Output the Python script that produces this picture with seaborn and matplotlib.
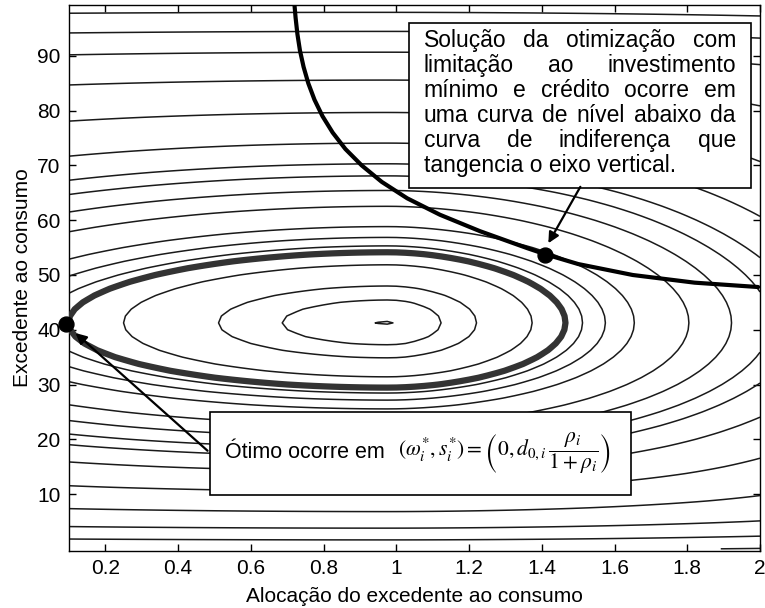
import numpy as np
import pandas as pd
import matplotlib
matplotlib.use("Agg")
import matplotlib.pyplot as plt
from matplotlib.patches import Rectangle
import seaborn as sns

# ---------------- data ----------------
x_ticks = [0.2, 0.4, 0.6, 0.8, 1.0, 1.2, 1.4, 1.6, 1.8, 2.0]
x_ticklabels = ["0.2", "0.4", "0.6", "0.8", "1", "1.2", "1.4", "1.6", "1.8", "2"]
y_ticks = [10, 20, 30, 40, 50, 60, 70, 80, 90]

# where the open contour lines cross the left axis (x = 0.1)
left_axis_crossings = [46.7, 49.8, 52.9, 57.9, 61.5, 64.7, 67.3, 71.7, 78.1, 84.7, 90.2, 94.2, 97.8]
# left edges of the closed level curves inside the bold one (at the centre row)
inner_left_edges = [0.25, 0.511, 0.686, 0.94]
# bold level curve touches the left axis here
bold_touch = (0.1, 41.0)

# bold constraint curve
curve_x = [0.720, 0.723, 0.728, 0.735, 0.745, 0.758, 0.775, 0.797, 0.825, 0.860,
           0.905, 0.960, 1.030, 1.120, 1.230, 1.360, 1.409, 1.500, 1.650, 1.820, 1.995]
curve_y = [99.3, 97.0, 94.0, 91.0, 88.0, 85.0, 82.0, 79.0, 76.0, 73.0,
           70.0, 67.0, 64.0, 61.0, 58.0, 54.9, 53.8, 52.0, 50.0, 48.6, 47.8]

dots_x = [1.409, 0.093]
dots_y = [53.7, 41.0]

box1_lines = ["Solução da otimização com",
              "limitação ao investimento",
              "mínimo e crédito ocorre em",
              "uma curva de nível abaixo da",
              "curva de indiferença que",
              "tangencia o eixo vertical."]

# ---------------- utility-like surface (model) ----------------
X_MIN, X_MAX = 0.1, 2.0
Y_MIN, Y_MAX = -0.4, 99.3
m_opt, y_c, A_v, alpha_r, beta_r, y_shift, q_fade = 0.98, 41.3, 124.3, 1.69, 0.9, 115.0, 0.059


def b_of_x(x):
    x = np.asarray(x, dtype=float)
    left = (m_opt - x) ** 2
    right = (alpha_r * np.clip(x - m_opt, 0, None) ** beta_r) ** 2
    return np.where(x < m_opt, left, right)


def q_of_y(y):
    return np.log((np.asarray(y, dtype=float) + y_shift) / (y_c + y_shift)) ** 2


def surface(x, y):
    q = q_of_y(y)
    return A_v * q + b_of_x(x) * np.exp(-(q / q_fade) ** 2)


xs = np.linspace(X_MIN, X_MAX, 77)
ys = np.linspace(0, 100, 81)
XX, YY = np.meshgrid(xs, ys)
ZZ = surface(XX, YY)

levels = sorted(set([float(surface(X_MIN, y)) for y in left_axis_crossings] +
                    [float(surface(x, y_c)) for x in inner_left_edges]))
bold_level = float(surface(*bold_touch)) * 1.003

# ---------------- figure ----------------
sns.set_theme(style="white")
plt.rcParams["font.family"] = ["Liberation Sans", "DejaVu Sans"]
plt.rcParams["mathtext.fontset"] = "stix"

W, H = 765, 608
fig = plt.figure(figsize=(W / 100, H / 100), dpi=100)
ax = fig.add_axes([69 / W, 1 - 551 / H, (760 - 69) / W, (551 - 5) / H])
ax.set_xlim(X_MIN, X_MAX)
ax.set_ylim(Y_MIN, Y_MAX)

ax.contour(XX, YY, ZZ, levels=levels, colors="#1a1a1a", linewidths=1.1, zorder=2)
ax.contour(XX, YY, ZZ, levels=[bold_level], colors="#333333", linewidths=4.5, zorder=3)

curve_df = pd.DataFrame({"x": curve_x, "y": curve_y})
sns.lineplot(data=curve_df, x="x", y="y", ax=ax, color="black", linewidth=3,
             sort=False, estimator=None, zorder=4)

dots_df = pd.DataFrame({"x": dots_x, "y": dots_y})
ax.scatter(dots_df["x"], dots_df["y"], s=115, color="black", zorder=7, clip_on=False)

# ticks / spines
ax.set_xticks(x_ticks)
ax.set_xticklabels(x_ticklabels)
ax.set_yticks(y_ticks)
ax.tick_params(direction="in", length=5, width=1, top=True, right=True, bottom=True,
               left=True, labelsize=15, colors="black", pad=6)
for s in ax.spines.values():
    s.set_visible(True)
    s.set_color("black")
    s.set_linewidth(1.0)
ax.set_xlabel("Alocação do excedente ao consumo", fontsize=15, labelpad=6, color="black")
ax.set_ylabel("Excedente ao consumo", fontsize=15, labelpad=4, color="black")
ax.grid(False)

# ---------------- annotation box 1 (justified text) ----------------
ax.add_patch(Rectangle((1.036, 65.9), 1.976 - 1.036, 96.0 - 65.9, facecolor="white",
                       edgecolor="black", linewidth=1.2, zorder=5))
renderer = fig.canvas.get_renderer()
fs_box = 16.5
tx0, tx1 = 1.075, 1.934
line_y0, line_dy = 92.9, 25 / 5.475
inv = ax.transData.inverted()
for i, line in enumerate(box1_lines):
    yy = line_y0 - i * line_dy
    if i == len(box1_lines) - 1:
        ax.text(tx0, yy, line, fontsize=fs_box, va="center", ha="left", zorder=6, color="black")
        continue
    words = line.split()
    texts = [ax.text(0, yy, w, fontsize=fs_box, va="center", ha="left", zorder=6, color="black")
             for w in words]
    widths = [t.get_window_extent(renderer).width for t in texts]
    X0 = ax.transData.transform((tx0, yy))[0]
    X1 = ax.transData.transform((tx1, yy))[0]
    gap = (X1 - X0 - sum(widths)) / (len(words) - 1)
    pos = X0
    for t, w in zip(texts, widths):
        t.set_x(inv.transform((pos, 0))[0])
        pos += w + gap

# ---------------- annotation box 2 ----------------
ax.add_patch(Rectangle((0.489, 9.8), 1.646 - 0.489, 25.0 - 9.8, facecolor="white",
                       edgecolor="black", linewidth=1.2, zorder=5))
ax.text(0.53, 17.6, "Ótimo ocorre em", fontsize=15.5, va="center", ha="left", zorder=6, color="black")
ax.text(1.005, 17.4, r"$(\omega_i^{*},s_i^{*})=\left(0,d_{0,i}\,\dfrac{\rho_i}{1+\rho_i}\right)$",
        fontsize=15.5, va="center", ha="left", zorder=6, color="black")

# ---------------- arrows ----------------
arrow_kw = dict(arrowstyle="-|>", color="black", lw=1.6, mutation_scale=16, shrinkA=0, shrinkB=0)
ax.annotate("", xy=(1.418, 55.8), xytext=(1.506, 66.1), arrowprops=arrow_kw, zorder=6)
ax.annotate("", xy=(0.118, 39.4), xytext=(0.481, 17.9), arrowprops=arrow_kw, zorder=6)

fig.savefig("out.png", dpi=100, facecolor="white")
